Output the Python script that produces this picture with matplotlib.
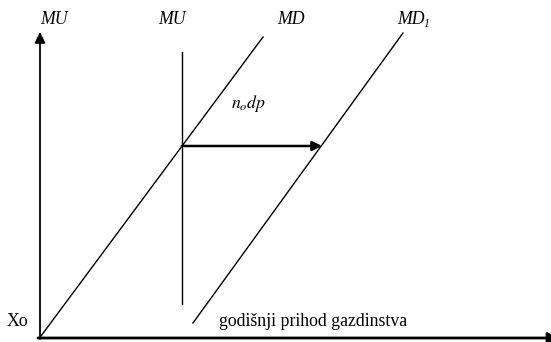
import matplotlib.pyplot as plt

# 示意图数据（横轴：家庭年收入，纵轴：边际效用）
md_x = [1, 223]
md_y = [2, 301]
md1_x = [153, 363]
md1_y = [15, 305]
mu_x = [142, 142]
mu_y = [34, 286]
shift_x = [142, 282]
shift_y = [192, 192]
axis_x_end = 519
axis_y_end = 306

plt.rcParams['font.family'] = ['Liberation Serif', 'DejaVu Serif']

fig = plt.figure(figsize=(5.51, 3.42), dpi=100)
ax = fig.add_axes([0, 0, 1, 1])
ax.set_xlim(-40, 511)
ax.set_ylim(-4, 338)
ax.axis('off')

# 坐标轴
ax.annotate('', xy=(0, axis_y_end), xytext=(0, -1), annotation_clip=False,
            arrowprops=dict(arrowstyle='-|>', color='black', lw=1.3,
                            mutation_scale=16, shrinkA=0, shrinkB=0))
ax.annotate('', xy=(axis_x_end, 0), xytext=(-2, 0), annotation_clip=False,
            arrowprops=dict(arrowstyle='-|>', color='black', lw=2,
                            mutation_scale=16, shrinkA=0, shrinkB=0))

# 曲线
ax.plot(md_x, md_y, color='black', lw=1)
ax.plot(md1_x, md1_y, color='black', lw=1)
ax.plot(mu_x, mu_y, color='black', lw=1)
ax.annotate('', xy=(shift_x[1], shift_y[1]), xytext=(shift_x[0], shift_y[0]),
            arrowprops=dict(arrowstyle='-|>', color='black', lw=1.8,
                            mutation_scale=14, shrinkA=0, shrinkB=0))

# 标注
fs = 12.8
ax.text(14, 319, 'MU', style='italic', fontsize=fs, ha='center', va='center')
ax.text(mu_x[0] - 10, 319, 'MU', style='italic', fontsize=fs, ha='center', va='center')
ax.text(251, 319, 'MD', style='italic', fontsize=fs, ha='center', va='center')
ax.text(357, 319, 'MD', style='italic', fontsize=fs, ha='left', va='center')
ax.text(384, 314, '1', style='italic', fontsize=8.5, ha='left', va='center')
ax.text(209, 235, r'$n_o dp$', fontsize=fs, ha='center', va='center', math_fontfamily='stix')
ax.text(-23, 16, 'Xo', fontsize=fs, ha='center', va='center')
ax.text(179, 17, 'godišnji prihod gazdinstva', fontsize=fs, ha='left', va='center')

plt.savefig('out.png', dpi=100)
